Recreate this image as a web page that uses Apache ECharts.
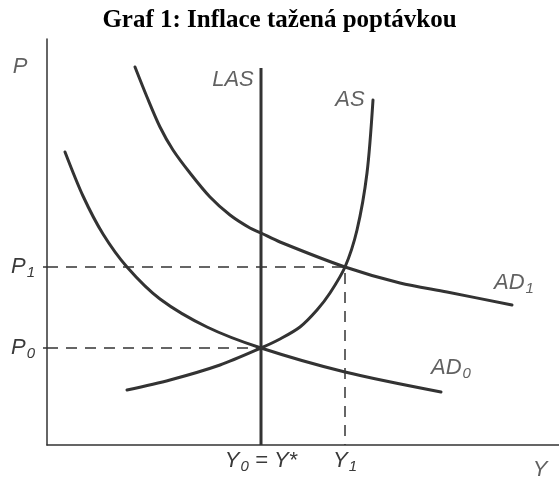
<!DOCTYPE html>
<html>
<head>
<meta charset="utf-8">
<script src="https://cdn.jsdelivr.net/npm/echarts@6/dist/echarts.min.js"></script>
<style>
  html, body { margin: 0; padding: 0; background: #fff; }
  #chart { width: 559px; height: 480px; }
</style>
</head>
<body>
<div id="chart"></div>
<script>
// hodnoty (jednotky ~ pixely od počátku os)
var Y0 = 214, Y1 = 298;
var P0 = 97, P1 = 178;
var lasTop = 377;

var ad0 = [[18, 293], [36, 249], [56, 211], [80, 178], [113, 146], [160, 118], [214, 97], [298, 73], [394, 53]];
var ad1 = [[88, 378], [100, 348], [113, 318], [126, 295], [143, 272], [163, 248], [183, 230], [203, 217], [214, 212], [233, 203], [298, 178], [353, 162], [400, 153], [465, 140]];
var as = [[80, 55], [123, 65], [173, 80], [214, 97], [233, 106], [253, 118], [270, 135], [283, 152], [298, 178], [310, 215], [320, 272], [326, 345]];

// popisky křivek
var curveLabels = [
  { name: 'P', value: [-27, 378] },
  { name: 'Y', value: [493, -25] },
  { name: 'LAS', value: [186, 365] },
  { name: 'AS', value: [303, 345] },
  { name: 'AD1', value: [467, 162] },
  { name: 'AD0', value: [404, 77] }
];

var lineColor = '#333';
var textColor = '#3a3a3a';

var rich = {
  m: { fontSize: 22, fontStyle: 'italic', fontFamily: 'Liberation Sans', color: textColor },
  s: { fontSize: 15, fontStyle: 'italic', fontFamily: 'Liberation Sans', color: textColor, padding: [11, 0, 0, 1] }
};

function fmtSub(txt) {
  var m = txt.match(/^([A-Za-z]+)(\d)$/);
  if (m) return '{m|' + m[1] + '}{s|' + m[2] + '}';
  return '{m|' + txt + '}';
}

var chartDom = document.getElementById('chart');
var myChart = echarts.init(chartDom);

var option = {
  backgroundColor: '#fff',
  animation: false,
  title: {
    text: 'Graf 1: Inflace tažená poptávkou',
    left: 'center',
    top: 3,
    textStyle: { fontFamily: 'Liberation Serif', fontWeight: 'bold', fontSize: 25, color: '#000' }
  },
  grid: { left: 47, right: 0, top: 39, bottom: 35 },
  xAxis: {
    type: 'value',
    min: 0,
    max: 512,
    splitLine: { show: false },
    axisLine: { show: true, lineStyle: { color: lineColor, width: 1.5 } },
    axisTick: { show: false },
    axisLabel: {
      customValues: [Y0, Y1],
      margin: 3,
      formatter: function (v) {
        if (v === Y0) return '{m|Y}{s|0}{m| = Y*}';
        return '{m|Y}{s|1}';
      },
      rich: rich
    }
  },
  yAxis: {
    type: 'value',
    min: 0,
    max: 406,
    splitLine: { show: false },
    axisLine: { show: true, lineStyle: { color: lineColor, width: 1.5 } },
    axisTick: { show: true, customValues: [P0, P1], length: 4, lineStyle: { color: lineColor, width: 1.5 } },
    axisLabel: {
      customValues: [P0, P1],
      margin: 12,
      formatter: function (v) {
        return v === P0 ? '{m|P}{s|0}' : '{m|P}{s|1}';
      },
      rich: rich
    }
  },
  series: [
    {
      type: 'line', name: 'P1 dash',
      data: [[0, P1], [Y1, P1], [Y1, 0]],
      symbol: 'none',
      lineStyle: { color: lineColor, width: 1.5, type: [11, 8] }
    },
    {
      type: 'line', name: 'P0 dash',
      data: [[0, P0], [Y0, P0]],
      symbol: 'none',
      lineStyle: { color: lineColor, width: 1.5, type: [11, 8] }
    },
    {
      type: 'line', name: 'LAS',
      data: [[Y0, 0], [Y0, lasTop]],
      symbol: 'none',
      lineStyle: { color: lineColor, width: 3 }
    },
    {
      type: 'line', name: 'AD0',
      data: ad0, smooth: 0.3, symbol: 'none',
      lineStyle: { color: lineColor, width: 3, cap: 'round' }
    },
    {
      type: 'line', name: 'AD1',
      data: ad1, smooth: 0.3, symbol: 'none',
      lineStyle: { color: lineColor, width: 3, cap: 'round' }
    },
    {
      type: 'line', name: 'AS',
      data: as, smooth: 0.3, symbol: 'none',
      lineStyle: { color: lineColor, width: 3, cap: 'round' }
    },
    {
      type: 'scatter', name: 'labels',
      data: curveLabels,
      symbolSize: 0,
      clip: false,
      silent: true,
      label: {
        show: true,
        position: 'inside',
        formatter: function (p) { return fmtSub(p.name); },
        rich: rich
      }
    }
  ]
};

option && myChart.setOption(option);
</script>
</body>
</html>
